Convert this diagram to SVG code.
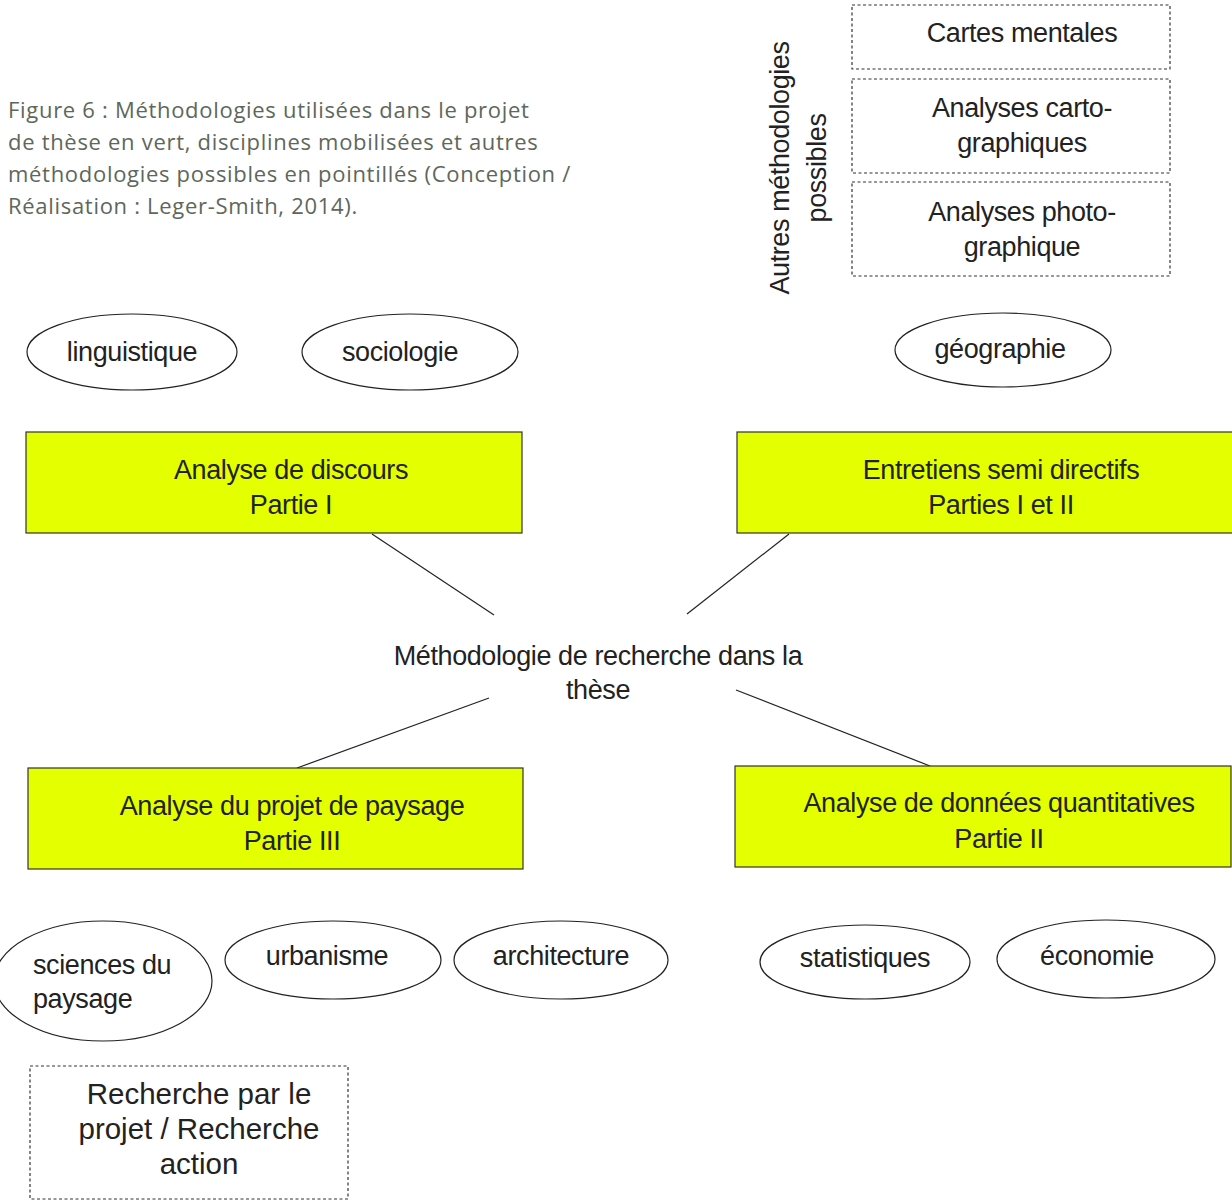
<svg xmlns="http://www.w3.org/2000/svg" width="1232" height="1202" viewBox="0 0 1232 1202">
<style>
text{font-family:"Liberation Sans",Arial,sans-serif;font-size:27px;fill:#222;text-anchor:middle;letter-spacing:-0.4px}
.cap{font-family:"Open Sans","Noto Sans",sans-serif;font-size:22px;fill:#5e675b;text-anchor:start;letter-spacing:0.7px}
.l{text-anchor:start}
.big{font-size:29.5px;letter-spacing:0}
.g{fill:#e4ff00;stroke:#333;stroke-width:1.2}
.e{fill:#fff;stroke:#222;stroke-width:1.2}
.d{fill:#fff;stroke:#333;stroke-width:1.2;stroke-dasharray:3 2.5}
.c line{stroke:#222;stroke-width:1.2}
</style>
<rect width="1232" height="1202" fill="#fff"/>
<g id="caption">
<text class="cap" x="8" y="118">Figure 6 : Méthodologies utilisées dans le projet</text>
<text class="cap" x="8" y="150">de thèse en vert, disciplines mobilisées et autres</text>
<text class="cap" x="8" y="182">méthodologies possibles en pointillés (Conception /</text>
<text class="cap" x="8" y="214">Réalisation : Leger-Smith, 2014).</text>
</g>
<g id="autres-label">
<text transform="translate(789,168) rotate(-90)">Autres méthodologies</text>
<text transform="translate(826,168) rotate(-90)">possibles</text>
</g>
<g id="cartes-mentales"><rect class="d" x="852" y="5" width="318" height="64"/><text x="1022" y="42">Cartes mentales</text></g>
<g id="analyses-carto"><rect class="d" x="852" y="79" width="318" height="94"/><text x="1022" y="117">Analyses carto-</text><text x="1022" y="152">graphiques</text></g>
<g id="analyses-photo"><rect class="d" x="852" y="182" width="318" height="94"/><text x="1022" y="221">Analyses photo-</text><text x="1022" y="256">graphique</text></g>
<g id="linguistique"><ellipse class="e" cx="132" cy="352" rx="105" ry="38"/><text x="132" y="361">linguistique</text></g>
<g id="sociologie"><ellipse class="e" cx="410" cy="352" rx="108" ry="38"/><text x="400" y="361">sociologie</text></g>
<g id="geographie"><ellipse class="e" cx="1003" cy="350" rx="108" ry="37"/><text x="1000" y="358">géographie</text></g>
<g class="c" id="connectors">
<line x1="372" y1="534" x2="494" y2="615"/>
<line x1="789" y1="534" x2="687" y2="614"/>
<line x1="489" y1="698" x2="297" y2="768"/>
<line x1="736" y1="690" x2="930" y2="766"/>
</g>
<g id="analyse-discours"><rect class="g" x="26" y="432" width="496" height="101"/><text x="291" y="479">Analyse de discours</text><text x="291" y="514">Partie I</text></g>
<g id="entretiens"><rect class="g" x="737" y="432" width="500" height="101"/><text x="1001" y="479">Entretiens semi directifs</text><text x="1001" y="514">Parties I et II</text></g>
<g id="centre"><text x="598" y="665">Méthodologie de recherche dans la</text><text x="598" y="699">thèse</text></g>
<g id="analyse-projet"><rect class="g" x="28" y="768" width="495" height="101"/><text x="292" y="815">Analyse du projet de paysage</text><text x="292" y="850">Partie III</text></g>
<g id="analyse-donnees"><rect class="g" x="735" y="766" width="496" height="101"/><text x="999" y="812">Analyse de données quantitatives</text><text x="999" y="848">Partie II</text></g>
<g id="sciences-paysage"><ellipse class="e" cx="103" cy="981" rx="109" ry="60"/><text class="l" x="33" y="974">sciences du</text><text class="l" x="33" y="1008">paysage</text></g>
<g id="urbanisme"><ellipse class="e" cx="333" cy="960" rx="108" ry="39"/><text x="327" y="965">urbanisme</text></g>
<g id="architecture"><ellipse class="e" cx="561" cy="960" rx="107" ry="39"/><text x="561" y="965">architecture</text></g>
<g id="statistiques"><ellipse class="e" cx="865" cy="962" rx="105" ry="37"/><text x="865" y="967">statistiques</text></g>
<g id="economie"><ellipse class="e" cx="1106" cy="959" rx="109" ry="39"/><text x="1097" y="965">économie</text></g>
<g id="recherche-action"><rect class="d" x="30" y="1066" width="318" height="133"/><text class="big" x="199" y="1104">Recherche par le</text><text class="big" x="199" y="1139">projet / Recherche</text><text class="big" x="199" y="1174">action</text></g>
</svg>
